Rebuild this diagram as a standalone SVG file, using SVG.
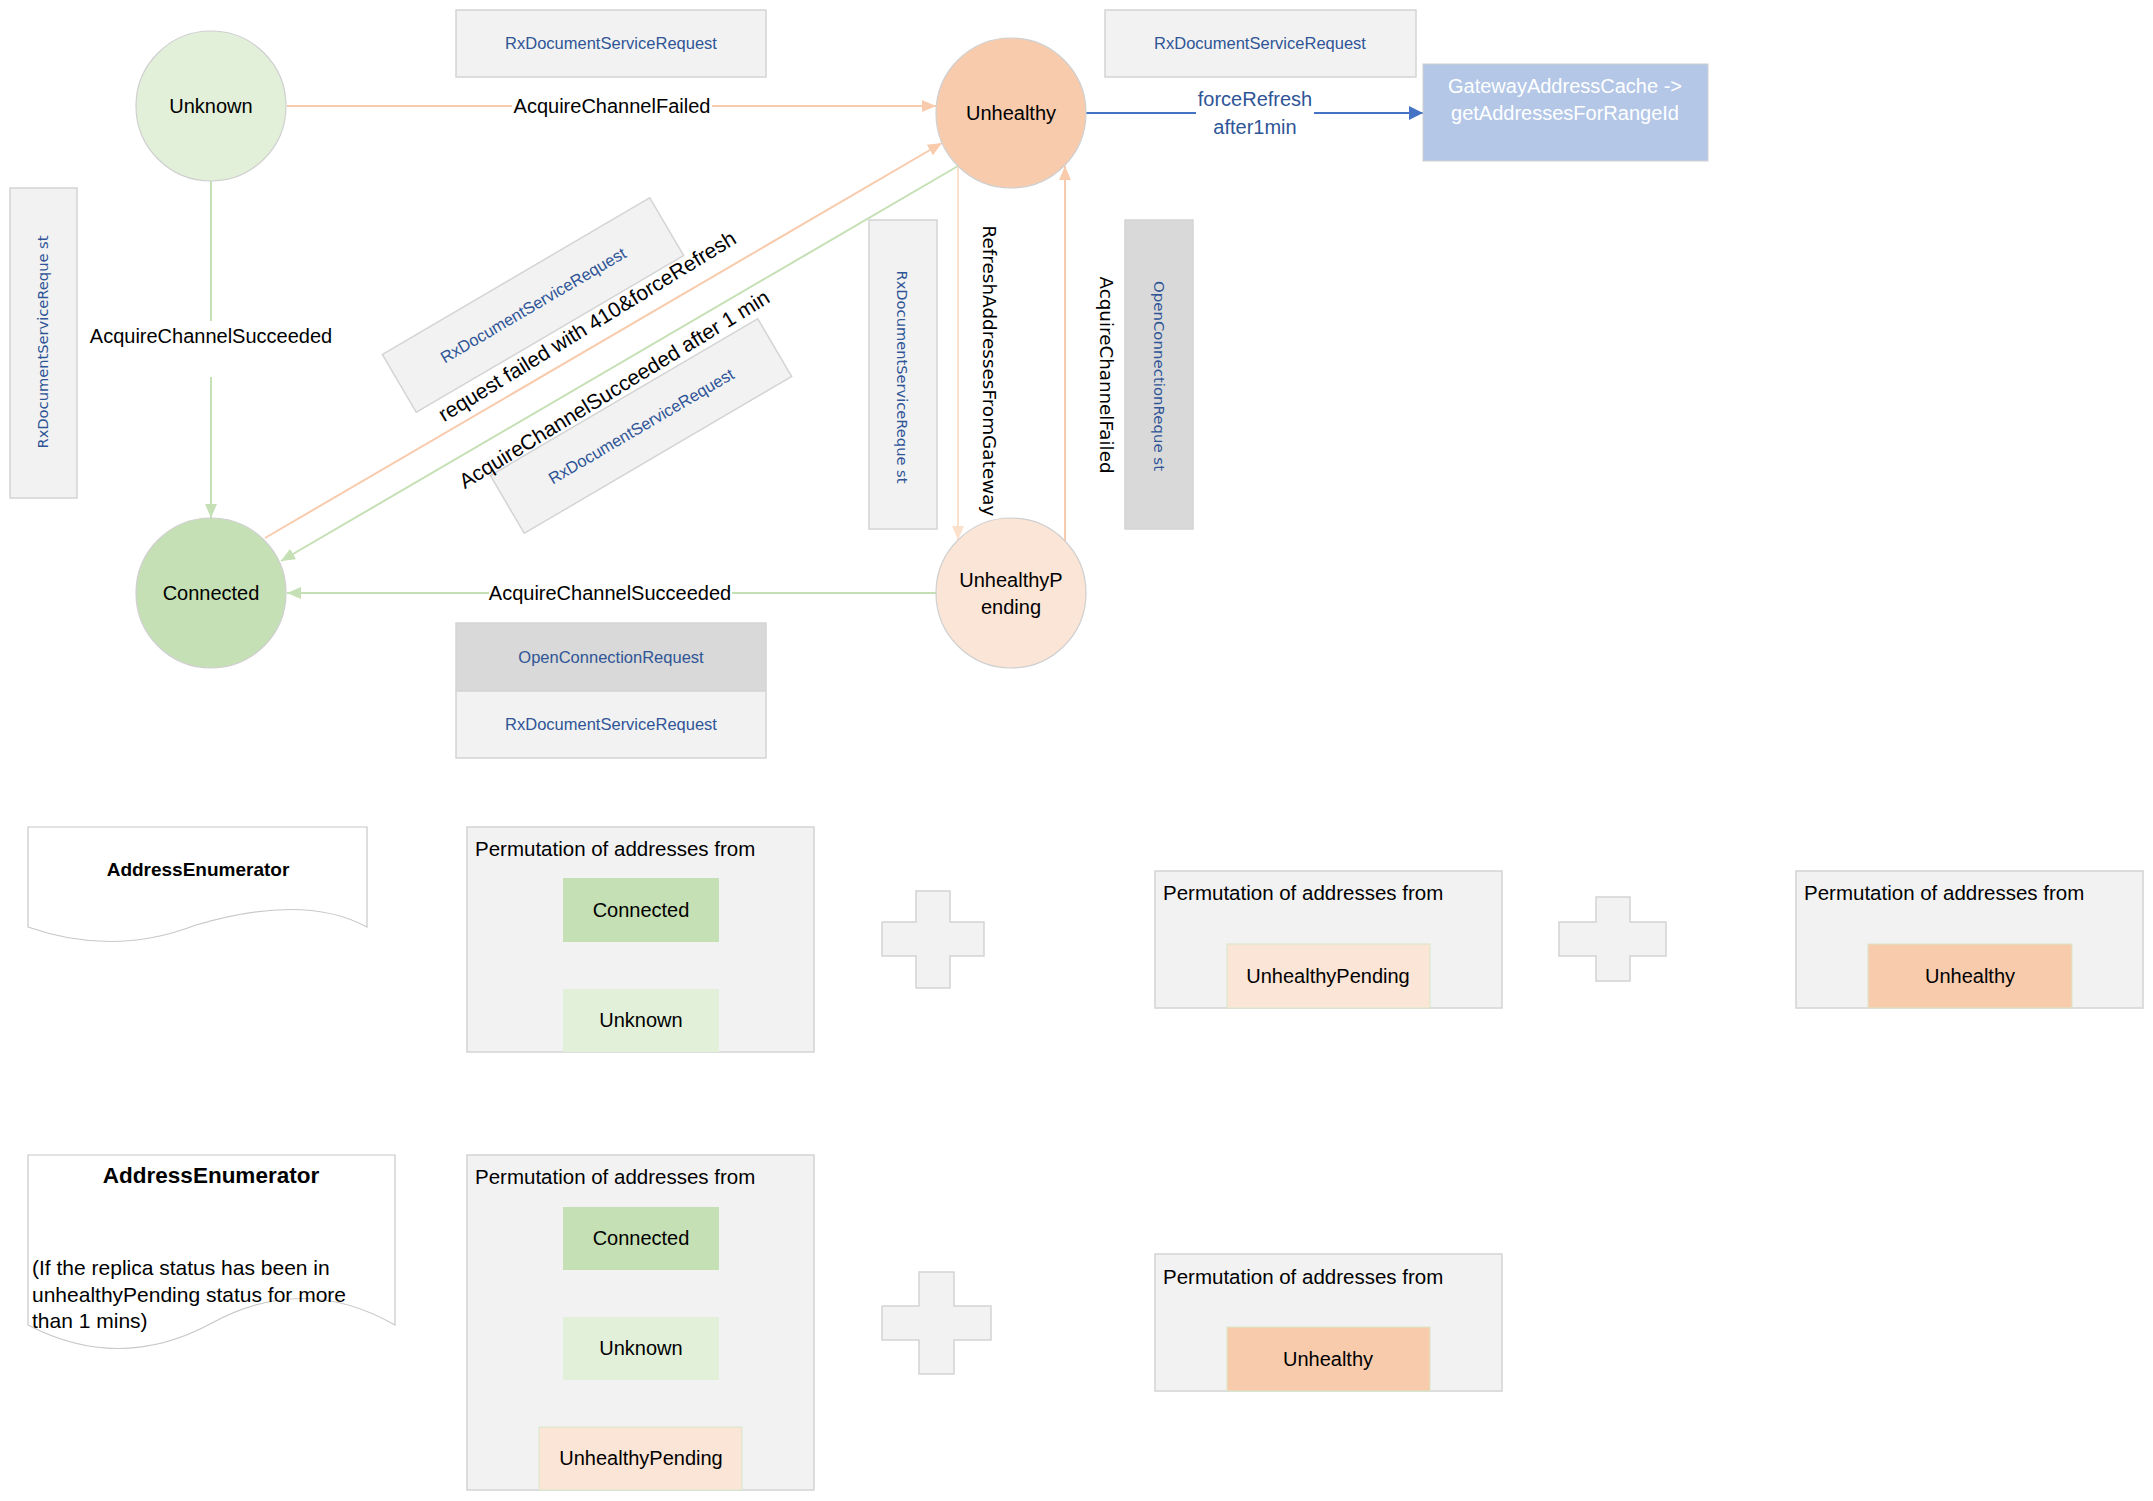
<svg xmlns="http://www.w3.org/2000/svg" width="2153" height="1501" viewBox="0 0 2153 1501">
  <style>
    .t { font-family: "Liberation Sans", Arial, sans-serif; font-size: 20px; fill: #000; }
    .c { text-anchor: middle; dominant-baseline: central; }
    .blue { fill: #2F5597; font-size: 16.5px; }
    .vt { font-family: "DejaVu Sans", "Liberation Sans", sans-serif; font-size: 14px; text-anchor: middle; dominant-baseline: central; }
    .box { fill: #F2F2F2; stroke: #D4D4D4; stroke-width: 1.5; }
    .boxd { fill: #D9D9D9; stroke: #D4D4D4; stroke-width: 1.5; }
    .circ { stroke: #CFCFCF; stroke-width: 1.2; }
    .doc { fill: #FFFFFF; stroke: #C8C8C8; stroke-width: 1.2; }
    .lbl-bg { fill: #FFFFFF; }
    .peach { stroke: #F8CBAD; stroke-width: 2; fill: none; }
    .peachl { stroke: #FBE0CC; stroke-width: 2; fill: none; }
    .green { stroke: #C5E0B4; stroke-width: 2; fill: none; }
    .bluel { stroke: #4472C4; stroke-width: 2; fill: none; }
  </style>
  <defs>
    <marker id="ah-peach" markerUnits="userSpaceOnUse" markerWidth="14" markerHeight="12" refX="14" refY="6" orient="auto">
      <path d="M0,0 L14,6 L0,12 z" fill="#F8CBAD"/>
    </marker>
    <marker id="ah-peachl" markerUnits="userSpaceOnUse" markerWidth="14" markerHeight="12" refX="14" refY="6" orient="auto">
      <path d="M0,0 L14,6 L0,12 z" fill="#FBE0CC"/>
    </marker>
    <marker id="ah-green" markerUnits="userSpaceOnUse" markerWidth="14" markerHeight="12" refX="14" refY="6" orient="auto">
      <path d="M0,0 L14,6 L0,12 z" fill="#C5E0B4"/>
    </marker>
    <marker id="ah-blue" markerUnits="userSpaceOnUse" markerWidth="14" markerHeight="14" refX="14" refY="7" orient="auto">
      <path d="M0,0 L14,7 L0,14 z" fill="#4472C4"/>
    </marker>
  </defs>

  <rect width="2153" height="1501" fill="#FFFFFF"/>

  <!-- request boxes attached to transitions -->
  <g id="req-top-left">
    <rect class="box" x="456" y="10" width="310" height="67"/>
    <text class="t c blue" x="611" y="43">RxDocumentServiceRequest</text>
  </g>
  <g id="req-top-right">
    <rect class="box" x="1105" y="10" width="311" height="67"/>
    <text class="t c blue" x="1260" y="43">RxDocumentServiceRequest</text>
  </g>
  <g id="req-left-vertical">
    <rect class="box" x="10" y="188" width="67" height="310"/>
    <text class="vt" fill="#2F5597" x="43" y="342" transform="rotate(-90 43 342)" textLength="213" lengthAdjust="spacingAndGlyphs">RxDocumentServiceReque st</text>
  </g>
  <g id="req-middle-vertical">
    <rect class="box" x="869" y="220" width="68" height="309"/>
    <text class="vt" fill="#2F5597" x="902" y="377" transform="rotate(90 902 377)" textLength="213" lengthAdjust="spacingAndGlyphs">RxDocumentServiceReque st</text>
  </g>
  <g id="open-conn-vertical">
    <rect class="boxd" x="1125" y="220" width="68" height="309"/>
    <text class="vt" fill="#2F5597" x="1159" y="376" transform="rotate(90 1159 376)" textLength="190" lengthAdjust="spacingAndGlyphs">OpenConnectionReque st</text>
  </g>
  <g id="req-diag-a" transform="translate(533 305) rotate(-30.4)">
    <rect class="box" x="-155" y="-33.5" width="310" height="67"/>
    <text class="t c blue" x="0" y="0">RxDocumentServiceRequest</text>
  </g>
  <g id="req-diag-b" transform="translate(641 426) rotate(-30.4)">
    <rect class="box" x="-155" y="-33.5" width="310" height="67"/>
    <text class="t c blue" x="0" y="0">RxDocumentServiceRequest</text>
  </g>
  <g id="req-bottom">
    <rect class="boxd" x="456" y="623" width="310" height="68"/>
    <text class="t c blue" x="611" y="657">OpenConnectionRequest</text>
    <rect class="box" x="456" y="691" width="310" height="67"/>
    <text class="t c blue" x="611" y="724">RxDocumentServiceRequest</text>
  </g>

  <!-- state transitions -->
  <g id="connectors">
    <line class="peach" x1="287" y1="106" x2="936" y2="106" marker-end="url(#ah-peach)"/>
    <rect class="lbl-bg" x="512" y="93" width="200" height="26"/>
    <text class="t c" x="612" y="106">AcquireChannelFailed</text>

    <line class="green" x1="211" y1="181" x2="211" y2="518" marker-end="url(#ah-green)"/>
    <rect class="lbl-bg" x="86" y="321" width="250" height="56"/>
    <text class="t c" x="211" y="336">AcquireChannelSucceeded</text>

    <line class="peach" x1="265" y1="538" x2="942" y2="143" marker-end="url(#ah-peach)"/>
    <line class="green" x1="958" y1="166" x2="281" y2="561" marker-end="url(#ah-green)"/>
    <text class="t c" style="font-size:21px" x="587" y="326" transform="rotate(-31.5 587 326)">request failed with 410&amp;forceRefresh</text>
    <text class="t c" style="font-size:21px" x="614" y="389" transform="rotate(-31.5 614 389)">AcquireChannelSucceeded after 1 min</text>

    <line class="peachl" x1="958" y1="166" x2="958" y2="540" marker-end="url(#ah-peachl)"/>
    <line class="peach" x1="1065" y1="541" x2="1065" y2="166" marker-end="url(#ah-peach)"/>
    <text class="vt" style="font-size:17px" fill="#000" x="989" y="371" transform="rotate(90 989 371)" textLength="291" lengthAdjust="spacingAndGlyphs">RefreshAddressesFromGateway</text>
    <text class="vt" style="font-size:17px" fill="#000" x="1106" y="375" transform="rotate(90 1106 375)" textLength="197" lengthAdjust="spacingAndGlyphs">AcquireChannelFailed</text>

    <line class="green" x1="936" y1="593" x2="287" y2="593" marker-end="url(#ah-green)"/>
    <rect class="lbl-bg" x="489" y="580" width="243" height="26"/>
    <text class="t c" x="610" y="593">AcquireChannelSucceeded</text>

    <line class="bluel" x1="1086" y1="113" x2="1423" y2="113" marker-end="url(#ah-blue)"/>
    <rect class="lbl-bg" x="1196" y="84" width="118" height="58"/>
    <text class="t c" style="fill:#2F5597" x="1255" y="99">forceRefresh</text>
    <text class="t c" style="fill:#2F5597" x="1255" y="127">after1min</text>
  </g>

  <!-- replica states -->
  <g id="state-unknown">
    <circle class="circ" cx="211" cy="106" r="75" fill="#E2F0D9"/>
    <text class="t c" x="211" y="106">Unknown</text>
  </g>
  <g id="state-connected">
    <circle class="circ" cx="211" cy="593" r="75" fill="#C5E0B4"/>
    <text class="t c" x="211" y="593">Connected</text>
  </g>
  <g id="state-unhealthy">
    <circle class="circ" cx="1011" cy="113" r="75" fill="#F8CBAD"/>
    <text class="t c" x="1011" y="113">Unhealthy</text>
  </g>
  <g id="state-unhealthy-pending">
    <circle class="circ" cx="1011" cy="593" r="75" fill="#FBE5D6"/>
    <text class="t c" x="1011" y="580">UnhealthyP</text>
    <text class="t c" x="1011" y="607">ending</text>
  </g>
  <g id="gateway-cache">
    <rect x="1423" y="64" width="285" height="97" fill="#B4C7E7" stroke="#D0D0D0" stroke-width="1"/>
    <text class="t c" style="fill:#FFFFFF" x="1565" y="86">GatewayAddressCache -&gt;</text>
    <text class="t c" style="fill:#FFFFFF" x="1565" y="113">getAddressesForRangeId</text>
  </g>

  <!-- enumeration order: default -->
  <g id="enumerator-default">
    <path class="doc" d="M28,827 H367 V927 Q304,893 196,925 Q113,957 28,927 Z"/>
    <text class="t c" style="font-weight:bold;font-size:19px" x="198" y="869">AddressEnumerator</text>
  </g>
  <g id="perm-1">
    <rect class="box" x="467" y="827" width="347" height="225"/>
    <text class="t" style="font-size:20.5px" x="475" y="848" dominant-baseline="central">Permutation of addresses from</text>
    <rect x="563" y="878" width="156" height="64" fill="#C5E0B4"/>
    <text class="t c" x="641" y="910">Connected</text>
    <rect x="563" y="989" width="156" height="63" fill="#E2F0D9"/>
    <text class="t c" x="641" y="1020">Unknown</text>
  </g>
  <g id="plus-1">
    <path class="box" d="M916,891 H950 V922 H984 V956 H950 V988 H916 V956 H882 V922 H916 Z"/>
  </g>
  <g id="perm-2">
    <rect class="box" x="1155" y="871" width="347" height="137"/>
    <text class="t" style="font-size:20.5px" x="1163" y="892" dominant-baseline="central">Permutation of addresses from</text>
    <rect x="1227" y="944" width="203" height="64" fill="#FBE5D6" stroke="#D5E8C8" stroke-width="1"/>
    <text class="t c" x="1328" y="976">UnhealthyPending</text>
  </g>
  <g id="plus-2">
    <path class="box" d="M1596,897 H1630 V922 H1666 V956 H1630 V981 H1596 V956 H1559 V922 H1596 Z"/>
  </g>
  <g id="perm-3">
    <rect class="box" x="1796" y="871" width="347" height="137"/>
    <text class="t" style="font-size:20.5px" x="1804" y="892" dominant-baseline="central">Permutation of addresses from</text>
    <rect x="1868" y="944" width="204" height="64" fill="#F8CBAD" stroke="#D5E8C8" stroke-width="1"/>
    <text class="t c" x="1970" y="976">Unhealthy</text>
  </g>

  <!-- enumeration order: pending for more than 1 min -->
  <g id="enumerator-stale-pending">
    <path class="doc" d="M28,1155 H395 V1325 Q304,1273 212,1323 Q120,1373 28,1325 Z"/>
    <text class="t c" style="font-weight:bold;font-size:22.5px" x="211" y="1175">AddressEnumerator</text>
    <text class="t" style="font-size:21px" x="32" y="1267" dominant-baseline="central">(If the replica status has been in</text>
    <text class="t" style="font-size:21px" x="32" y="1294" dominant-baseline="central">unhealthyPending status for more</text>
    <text class="t" style="font-size:21px" x="32" y="1320" dominant-baseline="central">than 1 mins)</text>
  </g>
  <g id="perm-4">
    <rect class="box" x="467" y="1155" width="347" height="335"/>
    <text class="t" style="font-size:20.5px" x="475" y="1176" dominant-baseline="central">Permutation of addresses from</text>
    <rect x="563" y="1207" width="156" height="63" fill="#C5E0B4"/>
    <text class="t c" x="641" y="1238">Connected</text>
    <rect x="563" y="1317" width="156" height="63" fill="#E2F0D9"/>
    <text class="t c" x="641" y="1348">Unknown</text>
    <rect x="539" y="1427" width="203" height="63" fill="#FBE5D6" stroke="#D5E8C8" stroke-width="1"/>
    <text class="t c" x="641" y="1458">UnhealthyPending</text>
  </g>
  <g id="plus-3">
    <path class="box" d="M919,1272 H954 V1306 H991 V1340 H954 V1374 H919 V1340 H882 V1306 H919 Z"/>
  </g>
  <g id="perm-5">
    <rect class="box" x="1155" y="1254" width="347" height="137"/>
    <text class="t" style="font-size:20.5px" x="1163" y="1276" dominant-baseline="central">Permutation of addresses from</text>
    <rect x="1227" y="1327" width="203" height="64" fill="#F8CBAD" stroke="#D5E8C8" stroke-width="1"/>
    <text class="t c" x="1328" y="1359">Unhealthy</text>
  </g>
</svg>
